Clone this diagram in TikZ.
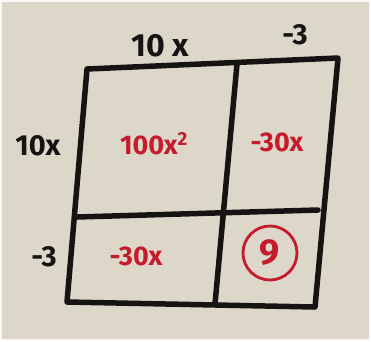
\documentclass[tikz,border=0pt]{standalone}
\usepackage{fontspec}
\setmainfont{Fira Sans}
\usetikzlibrary{positioning}
\definecolor{paper}{RGB}{221,215,202}
\definecolor{marker}{RGB}{22,20,18}
\definecolor{redink}{RGB}{196,28,44}

\begin{document}
\begin{tikzpicture}[x=1pt, y=-1pt,
        grid line/.style={draw=marker, line width=5.5pt, line cap=round, line join=round},
        side label/.style={text=marker, font=\fontsize{29}{29}\selectfont\bfseries, inner sep=0pt},
        cell label/.style={text=redink, font=\fontsize{27}{27}\selectfont\bfseries, inner sep=0pt}]
      % Paper
      \fill[paper] (0,0) rectangle (371,341);
      \draw[white!85!paper, line width=2pt] (1,1) rectangle (370,340);
      \useasboundingbox (0,0) rectangle (371,341);
      % Box corners
      \coordinate (tl) at (87,69);
      \coordinate (tr) at (338,58);
      \coordinate (br) at (315,307);
      \coordinate (bl) at (67,302);
      % Dividers
      \coordinate (ml) at (77,217);
      \coordinate (mr) at (318,210);
      \coordinate (mt) at (237,64);
      \coordinate (mb) at (215,304);
      \draw[grid line] (tl) -- (tr) -- (br) -- (bl) -- cycle;
      \draw[grid line] (ml) -- (mr);
      \draw[grid line] (mt) -- (mb);
      % Factors
      \node[side label, font=\fontsize{32}{32}\selectfont\bfseries] (topA) at (160,46) {10 x};
      \node[side label] (topB) at (295,35) {-3};
      \node[side label] (leftA) at (38,146) {10x};
      \node[side label] (leftB) at (44,257) {-3};
      % Products
      \node[cell label] (sq) at (154,144) {100x\textsuperscript{2}};
      \node[cell label] (xr) at (277,142) {-30x};
      \node[cell label] (xl) at (136,256) {-30x};
      \node[circle, draw=redink, line width=2.8pt, minimum size=54pt, inner sep=0pt,
            text=redink, font=\fontsize{36}{36}\selectfont\bfseries] (c) at (270,253) {9};
\end{tikzpicture}
\end{document}
